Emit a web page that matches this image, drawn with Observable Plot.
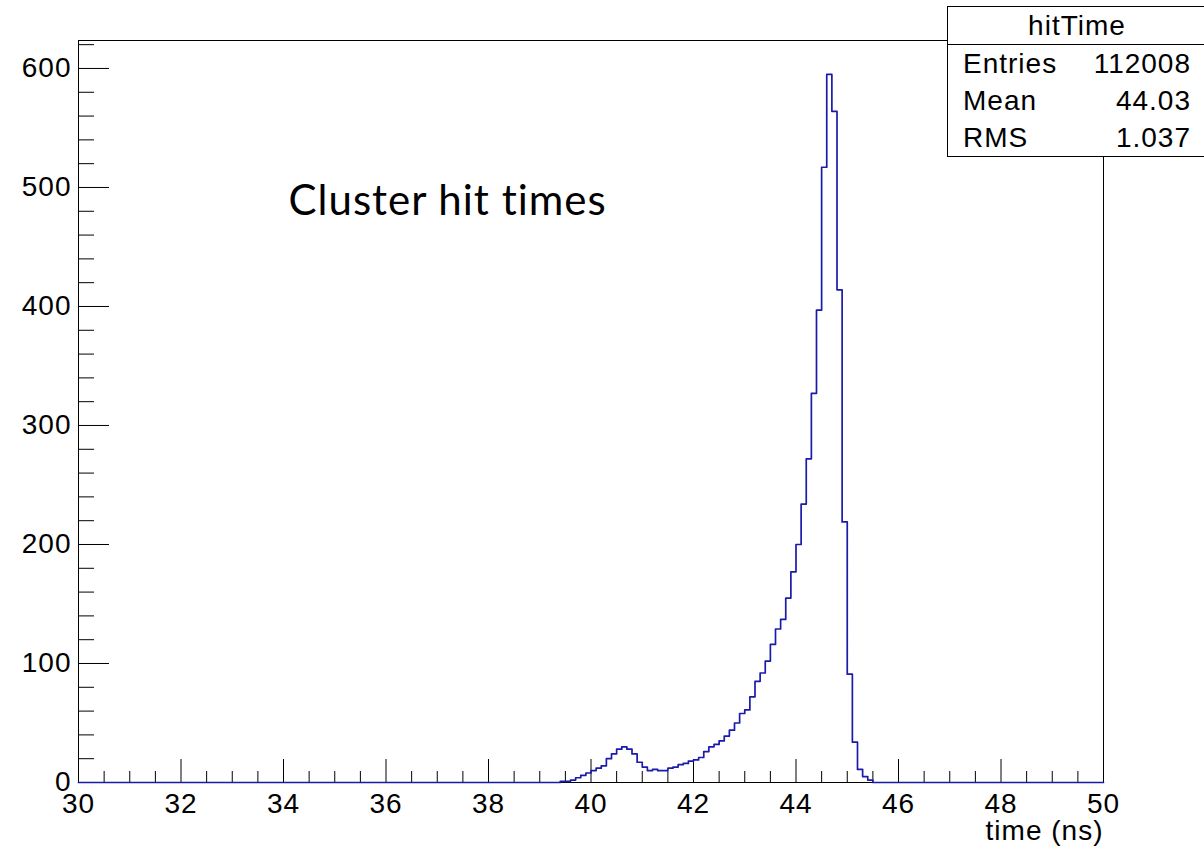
<!DOCTYPE html>
<html><head><meta charset="utf-8">
<script src="https://cdn.jsdelivr.net/npm/d3@7"></script>
<script src="https://cdn.jsdelivr.net/npm/@observablehq/plot@0.6"></script>
<style>
html,body{margin:0;padding:0;background:#fff;overflow:hidden}
#wrap{position:relative;width:1204px;height:852px;overflow:hidden}
#wrap svg{position:absolute;left:0;top:0}
#stats{position:absolute;left:947px;top:6px;width:275px;height:149px;border:1px solid #000;background:#fff;font-family:"Liberation Sans",Arial,sans-serif;font-size:28px;letter-spacing:1px;color:#000}
#stats .title{position:absolute;left:0;top:0;height:37px;line-height:37px;border-bottom:1px solid #000;width:275px}
#stats .title span{display:inline-block;width:258px;text-align:center}
#stats .row{position:absolute;left:15px;width:228px;height:37px;line-height:37px}
#stats .row .n{position:absolute;left:0}
#stats .row .v{position:absolute;right:0}
</style></head><body><div id="wrap"></div>
<script>
// histogram bins (left edge, ns) and counts; all other bins between 30 and 50 are empty
const binLow = [39.4,39.5,39.6,39.7,39.8,39.9,40.0,40.1,40.2,40.3,40.4,40.5,40.6,40.7,40.8,40.9,
  41.0,41.1,41.2,41.3,41.4,41.5,41.6,41.7,41.8,41.9,42.0,42.1,42.2,42.3,42.4,42.5,42.6,42.7,42.8,42.9,
  43.0,43.1,43.2,43.3,43.4,43.5,43.6,43.7,43.8,43.9,44.0,44.1,44.2,44.3,44.4,44.5,44.6,44.7,44.8,44.9,
  45.0,45.1,45.2,45.3,45.4];
const counts = [1,1,2,4,6,8,10,12,14,20,24,28,30,28,24,17,
  13,10,11,10,10,12,13,15,16,18,19,21,26,30,32,35,39,44,50,58,
  61,72,85,92,102,116,129,137,155,177,200,234,272,327,397,517,595,564,414,219,
  91,34,11,5,2];
const binWidth = 0.1;
const xRange = [30, 50];
const yTop = 623.5;
const xMajor = [30,32,34,36,38,40,42,44,46,48,50];
const xMinor = [30.5,31,31.5,32.5,33,33.5,34.5,35,35.5,36.5,37,37.5,38.5,39,39.5,40.5,41,41.5,42.5,43,43.5,44.5,45,45.5,46.5,47,47.5,48.5,49,49.5];
const yMajor = [0,100,200,300,400,500,600];
const yMinor = [20,40,60,80,120,140,160,180,220,240,260,280,320,340,360,380,420,440,460,480,520,540,560,580,620];
const xLabel = "time (ns)";
const chartTitle = "Cluster hit times";
const statsTitle = "hitTime";
const statsNames = ["Entries","Mean","RMS"];
const statsValues = ["112008","44.03","1.037"];

// outline points of the histogram (step-after)
const pts = [{x: xRange[0], y: 0}];
binLow.forEach((b, i) => pts.push({x: b, y: counts[i]}));
pts.push({x: +(binLow[binLow.length-1] + binWidth).toFixed(2), y: 0});
pts.push({x: xRange[1], y: 0});

const chart = Plot.plot({
  width: 1204, height: 852,
  marginLeft: 78, marginRight: 101, marginTop: 40, marginBottom: 70,
  x: {domain: xRange},
  y: {domain: [0, yTop]},
  style: {fontFamily: '"Liberation Sans", Arial, sans-serif', fontSize: "28px", letterSpacing: "1px", background: "#fff", color: "#000", overflow: "visible"},
  marks: [
    Plot.frame({stroke: "#000", strokeWidth: 1}),
    Plot.tickX(xMajor, {x: d => d, insetTop: 719, stroke: "#000"}),
    Plot.tickX(xMinor, {x: d => d, insetTop: 731, stroke: "#000"}),
    Plot.tickY(yMajor, {y: d => d, insetRight: 994, stroke: "#000"}),
    Plot.tickY(yMinor, {y: d => d, insetRight: 1009, stroke: "#000"}),
    Plot.axisX({ticks: xMajor, tickSize: 0, tickPadding: 11, tickFormat: d => String(d), label: null, fontSize: 28}),
    Plot.axisY({ticks: yMajor, tickSize: 0, tickPadding: 7, tickFormat: d => String(d), label: null, fontSize: 28}),
    Plot.line(pts, {x: "x", y: "y", curve: "step-after", stroke: "#1b1bab", strokeWidth: 1.7}),
    Plot.text([xLabel], {frameAnchor: "bottom-right", text: d => d, dy: 57, lineAnchor: "bottom", textAnchor: "end", fontSize: 28}),
    Plot.text([chartTitle], {frameAnchor: "top-left", text: d => d, dx: 210, dy: 174, lineAnchor: "bottom", textAnchor: "start", fontSize: 42, fontFamily: "Lato"})
  ]
});
const wrap = document.getElementById("wrap");
wrap.appendChild(chart);

const stats = document.createElement("div");
stats.id = "stats";
const t = document.createElement("div");
t.className = "title";
const ts = document.createElement("span");
ts.textContent = statsTitle;
t.appendChild(ts);
stats.appendChild(t);
statsNames.forEach((n, i) => {
  const r = document.createElement("div");
  r.className = "row";
  r.style.top = (38 + i * 37) + "px";
  const a = document.createElement("span"); a.className = "n"; a.textContent = n;
  const b = document.createElement("span"); b.className = "v"; b.textContent = statsValues[i];
  r.appendChild(a); r.appendChild(b);
  stats.appendChild(r);
});
wrap.appendChild(stats);
</script>
</body></html>
